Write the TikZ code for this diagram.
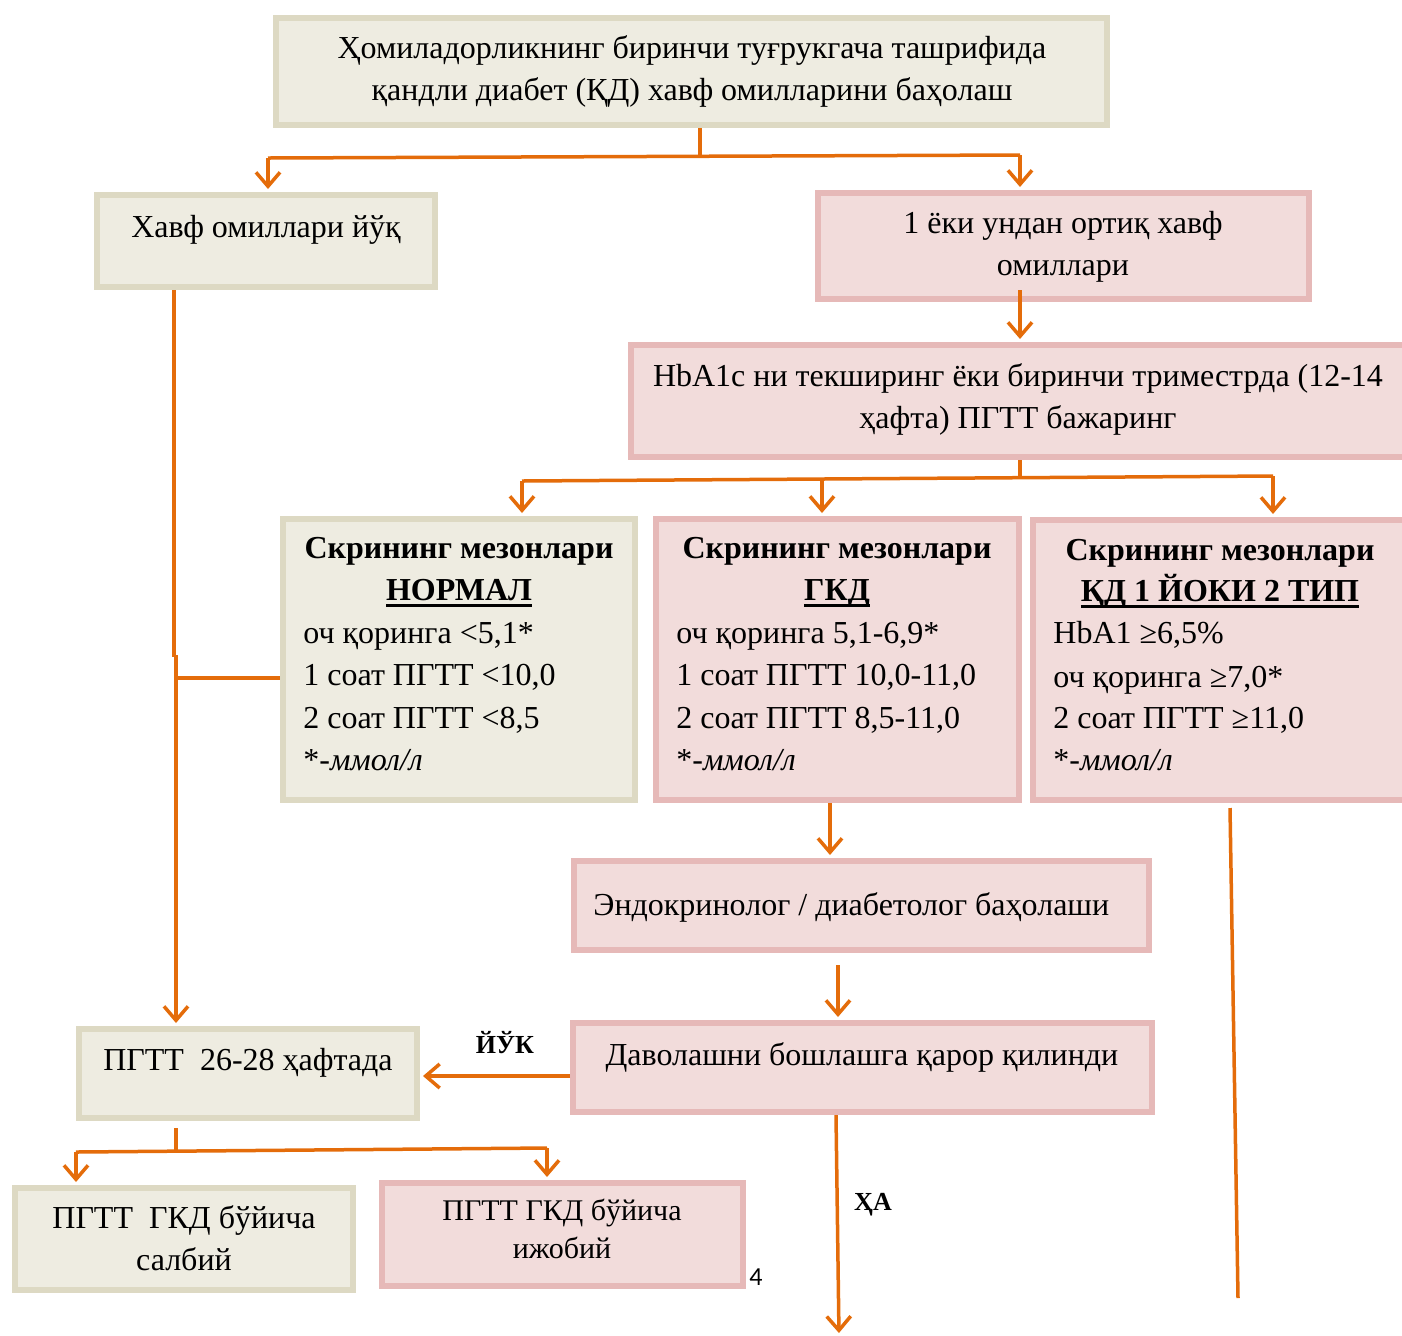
\documentclass[tikz,border=0pt]{standalone}
\usepackage{fontspec}
\setmainfont{Liberation Serif}
\newfontfamily\numfont{Carlito}
\usetikzlibrary{arrows.meta,fit}
\definecolor{bfill}{HTML}{EEECE1}
\definecolor{bline}{HTML}{DDD9C3}
\definecolor{pfill}{HTML}{F2DCDB}
\definecolor{pline}{HTML}{E6B9B8}
\definecolor{org}{HTML}{E46C0A}
\newcommand\myul[1]{\setbox0\hbox{#1}\rlap{\vrule height -2pt depth 3.6pt width \wd0}\box0}
\begin{document}
\begin{tikzpicture}[x=0.5pt,y=-0.5pt,
  beigebox/.style={draw=bline,fill=bfill,line width=3pt,inner sep=0pt,fit={#1}},
  pinkbox/.style={draw=pline,fill=pfill,line width=3pt,inner sep=0pt,fit={#1}},
  txt/.style={anchor=base,inner sep=0pt,font=\fontsize{16}{21}\selectfont},
  ltxt/.style={anchor=base west,inner sep=0pt,font=\fontsize{16}{21}\selectfont},
  btxt/.style={anchor=base,inner sep=0pt,font=\fontsize{16}{21}\selectfont\bfseries},
  stxt/.style={anchor=base,inner sep=0pt,font=\fontsize{15}{20}\selectfont},
  lbl/.style={anchor=base,inner sep=0pt,font=\fontsize{13}{16}\selectfont\bfseries},
  conn/.style={draw=org,line width=1.75pt},
  arr/.style={conn,-{Straight Barb[length=7pt,width=12pt]},shorten >=1.5pt}]
\path[use as bounding box] (0,0) rectangle (1402,1335);
\clip (0,0) rectangle (1402,1335);

% boxes
\node[beigebox={(276,18) (1107,125)}] (b1) {};
\node[beigebox={(97,195) (435,287)}] (b2) {};
\node[pinkbox={(818,193) (1309,299)}] (b3) {};
\node[pinkbox={(631,345) (1408,457)}] (b4) {};
\node[beigebox={(283,519) (635,800)}] (b5) {};
\node[pinkbox={(656,519) (1019,800)}] (b6) {};
\node[pinkbox={(1033,520) (1408,800)}] (b7) {};
\node[pinkbox={(574,861) (1149,950)}] (b9) {};
\node[pinkbox={(573,1023) (1152,1112)}] (b10) {};
\node[beigebox={(79,1029) (417,1118)}] (b8) {};
\node[beigebox={(15,1188) (353,1290)}] (b11) {};
\node[pinkbox={(382,1183) (743,1286)}] (b12) {};

% texts
\node[txt] (t1a) at (692,58) {Ҳомиладорликнинг биринчи туғрукгача ташрифида};
\node[txt] (t1b) at (692,100) {қандли диабет (ҚД) хавф омилларини баҳолаш};
\node[txt] (t2) at (266,237) {Хавф омиллари йўқ};
\node[txt] (t3a) at (1063,233) {1 ёки ундан ортиқ хавф};
\node[txt] (t3b) at (1063,275) {омиллари};
\node[txt] (t4a) at (1018,386) {HbA1c ни текширинг ёки биринчи триместрда (12-14};
\node[txt] (t4b) at (1018,428) {ҳафта) ПГТТ бажаринг};

\node[btxt] (t5a) at (459,558) {Скрининг мезонлари};
\node[btxt] (t5b) at (459,600) {\myul{НОРМАЛ}};
\node[ltxt] (t5c) at (303,643) {оч қоринга <5,1*};
\node[ltxt] (t5d) at (303,685) {1 соат ПГТТ <10,0};
\node[ltxt] (t5e) at (303,728) {2 соат ПГТТ <8,5};
\node[ltxt] (t5f) at (303,770) {*\itshape -ммол/л};

\node[btxt] (t6a) at (837,558) {Скрининг мезонлари};
\node[btxt] (t6b) at (837,600) {\myul{ГКД}};
\node[ltxt] (t6c) at (676,643) {оч қоринга 5,1-6,9*};
\node[ltxt] (t6d) at (676,685) {1 соат ПГТТ 10,0-11,0};
\node[ltxt] (t6e) at (676,728) {2 соат ПГТТ 8,5-11,0};
\node[ltxt] (t6f) at (676,770) {*\itshape -ммол/л};

\node[btxt] (t7a) at (1220,560) {Скрининг мезонлари};
\node[btxt] (t7b) at (1220,601) {\myul{ҚД 1 ЙОКИ 2 ТИП}};
\node[ltxt] (t7c) at (1053,643) {HbA1 ≥6,5\%};
\node[ltxt] (t7d) at (1053,687) {оч қоринга ≥7,0*};
\node[ltxt] (t7e) at (1053,728) {2 соат ПГТТ ≥11,0};
\node[ltxt] (t7f) at (1053,770) {*\itshape -ммол/л};

\node[ltxt] (t9) at (593,915) {Эндокринолог / диабетолог баҳолаши};
\node[txt] (t10) at (862,1065) {Даволашни бошлашга қарор қилинди};
\node[txt] (t8) at (248,1070) {ПГТТ~~26-28 ҳафтада};
\node[txt] (t11a) at (184,1228) {ПГТТ~~ГКД бўйича};
\node[txt] (t11b) at (184,1270) {салбий};
\node[stxt] (t12a) at (562,1220) {ПГТТ ГКД бўйича};
\node[stxt] (t12b) at (562,1258) {ижобий};
\node[lbl] (lno) at (505,1053) {ЙЎК};
\node[lbl] (lyes) at (873,1210) {ҲА};
\node[anchor=base,inner sep=0pt,font=\numfont\fontsize{13}{16}\selectfont] (pg) at (756,1285) {4};

% connectors
\coordinate (j1) at (700,156);
\coordinate (jl) at (268,158);
\coordinate (jr) at (1020,155);
\draw[conn] (b1.south -| j1) -- (j1);
\draw[conn] (jl) -- (jr);
\draw[arr] (jl) -- (jl |- b2.north);
\draw[arr] (jr) -- (jr |- b3.north);
\draw[arr] ([yshift=6pt]b3.south -| jr) -- (jr |- b4.north);

\coordinate (k1) at (1020,478);
\coordinate (kl) at (522,481);
\coordinate (km) at (822,479);
\coordinate (kr) at (1273,476);
\draw[conn] (b4.south -| k1) -- (k1);
\draw[conn] (kl) -- (kr);
\draw[arr] (kl) -- (kl |- b5.north);
\draw[arr] (km) -- (km |- b6.north);
\draw[arr] (kr) -- (kr |- b7.north);

\coordinate (m1) at (174,655);
\coordinate (m2) at (176,655);
\coordinate (m3) at (176,678);
\draw[conn] (b2.south -| m1) -- (m1) -- (m2);
\draw[arr] (m2) -- (m2 |- b8.north);
\draw[conn] (m3) -- (m3 -| b5.west);

\coordinate (n1) at (830,803);
\draw[arr] (b6.south -| n1) -- (n1 |- b9.north);
\coordinate (n2) at (838,965);
\draw[arr] (n2) -- (n2 |- b10.north);
\coordinate (n3) at (570,1076);
\draw[arr] (b10.west |- n3) -- (b8.east |- n3);

\coordinate (p1) at (176,1128);
\coordinate (p2) at (176,1150);
\coordinate (pl) at (76,1152);
\coordinate (pr) at (547,1148);
\draw[conn] (p1) -- (p2);
\draw[conn] (pl) -- (pr);
\draw[arr] (pl) -- (pl |- b11.north);
\draw[arr] (pr) -- (pr |- b12.north);

\coordinate (q0) at (836,1115);
\coordinate (q1) at (839,1336);
\draw[arr] (b10.south -| q0) -- (q1);
\coordinate (r1) at (1230,808);
\coordinate (r2) at (1238,1298);
\draw[conn] (r1) -- (r2);
\end{tikzpicture}
\end{document}
